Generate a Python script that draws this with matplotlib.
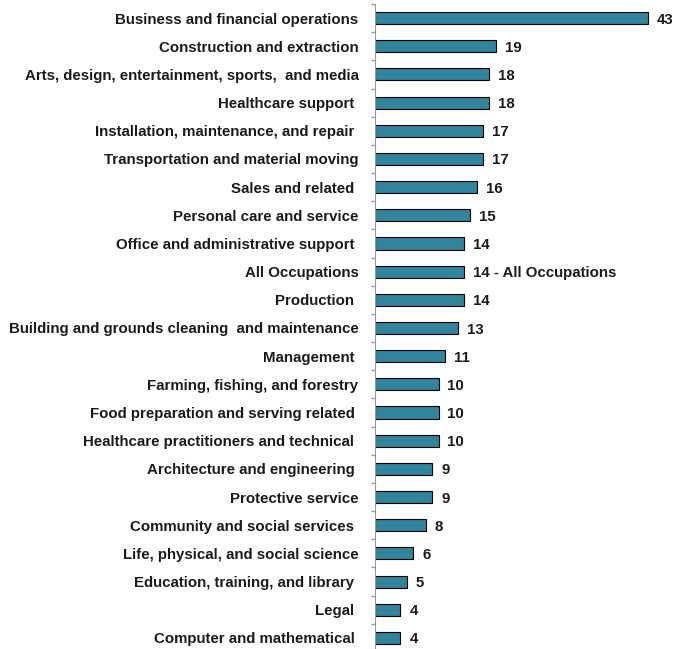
import numpy as np
import matplotlib.pyplot as plt

occupations = [
    "Business and financial operations",
    "Construction and extraction",
    "Arts, design, entertainment, sports,  and media",
    "Healthcare support ",
    "Installation, maintenance, and repair ",
    "Transportation and material moving",
    "Sales and related ",
    "Personal care and service",
    "Office and administrative support ",
    "All Occupations",
    "Production ",
    "Building and grounds cleaning  and maintenance",
    "Management ",
    "Farming, fishing, and forestry",
    "Food preparation and serving related ",
    "Healthcare practitioners and technical ",
    "Architecture and engineering ",
    "Protective service",
    "Community and social services ",
    "Life, physical, and social science",
    "Education, training, and library ",
    "Legal ",
    "Computer and mathematical ",
]
values = [43, 19, 18, 18, 17, 17, 16, 15, 14, 14, 14, 13, 11, 10, 10, 10, 9, 9, 8, 6, 5, 4, 4]
value_labels = [str(v) for v in values]
value_labels[occupations.index("All Occupations")] = "14 - All Occupations"

plt.rcParams['font.family'] = ['Liberation Sans', 'DejaVu Sans']

fig = plt.figure(figsize=(6.74, 6.49), dpi=100)
ax = fig.add_axes([375 / 674, -3 / 649, 286 / 674, 648 / 649])

y = np.arange(len(occupations))
ax.barh(y, values, height=0.43, color='#31849B', edgecolor='black', linewidth=0.8)

for yi, v, lab in zip(y, values, value_labels):
    ax.text(v + 1.4, yi, lab, va='center_baseline', ha='left', fontsize=10.8,
            fontweight='bold', color='#1a1a1a')

ax.set_xlim(0, 45)
ax.set_ylim(len(occupations) - 0.5, -0.5)
ax.set_yticks(y)
ax.set_yticklabels(occupations, fontsize=10.8, fontweight='bold', color='#1a1a1a')
ax.set_yticks(np.arange(-0.5, len(occupations)), minor=True)
ax.tick_params(axis='y', which='major', length=0, pad=11.8)
ax.tick_params(axis='y', which='minor', length=3, color='#999999', width=1)
ax.set_xticks([])
for s in ['top', 'right', 'bottom']:
    ax.spines[s].set_visible(False)
ax.spines['left'].set_color('#999999')

fig.savefig('out.png', dpi=100)
